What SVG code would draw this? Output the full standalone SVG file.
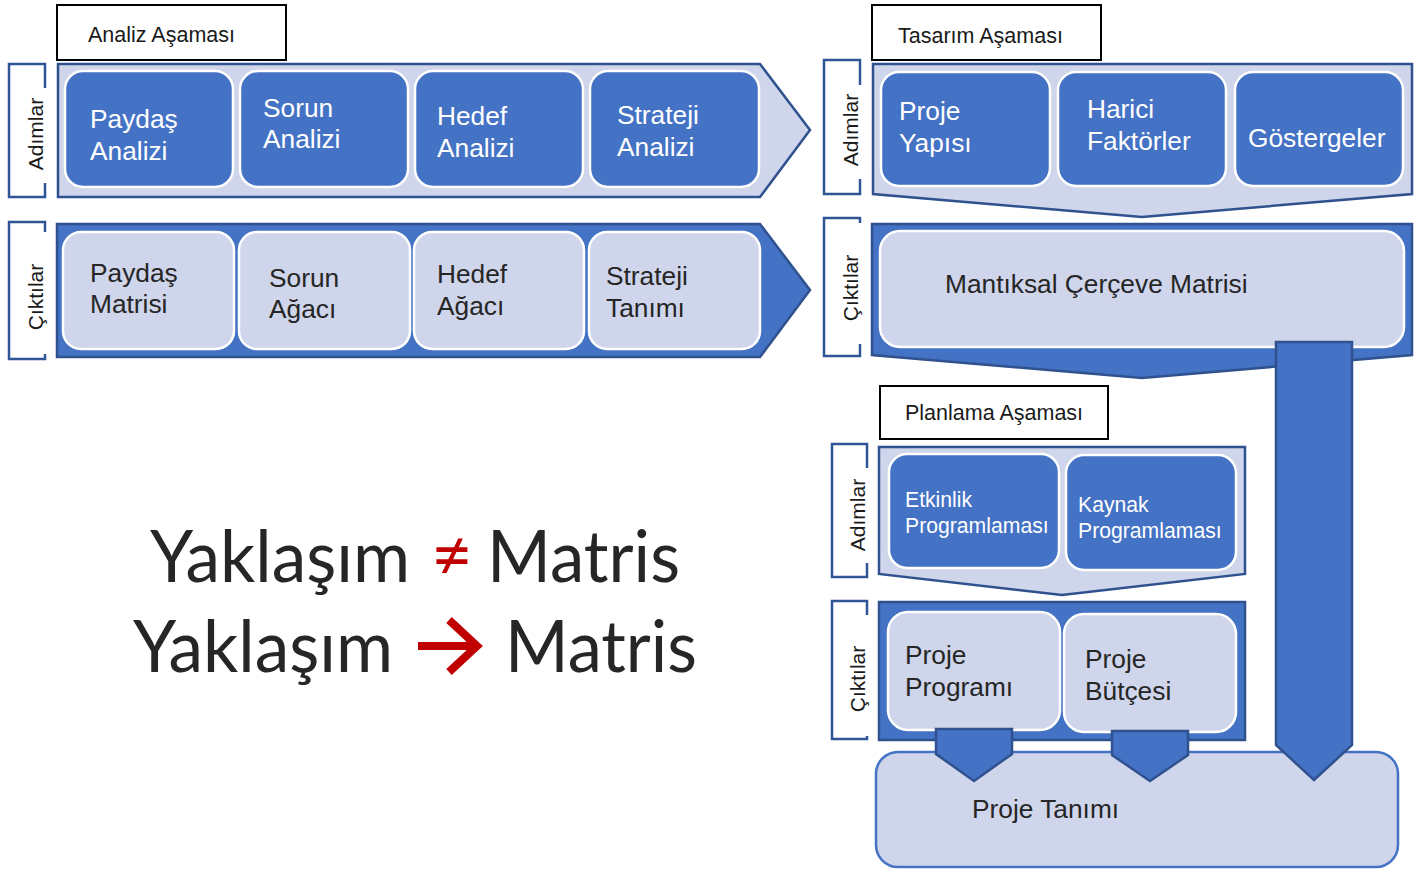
<svg xmlns="http://www.w3.org/2000/svg" width="1416" height="869" viewBox="0 0 1416 869">
<style>
.lbl{fill:#fff;stroke:#000;stroke-width:2}
.lt{font-family:"Liberation Sans",Arial,sans-serif;font-size:21.5px;fill:#1a1a1a}
.br{fill:none;stroke:#2F5597;stroke-width:2.5}
.bt{font-family:"Liberation Sans",Arial,sans-serif;font-size:21px;fill:#1a1a1a;text-anchor:middle}
.pl{fill:#CFD5EA;stroke:#2F528F;stroke-width:2.5}
.pd{fill:#4472C4;stroke:#2F528F;stroke-width:2.5}
.bd{fill:#4472C4;stroke:#fff;stroke-width:2.5}
.bl{fill:#CFD5EA;stroke:#fff;stroke-width:2.5}
.tw{font-family:"Liberation Sans",Arial,sans-serif;font-size:26.3px;fill:#fff}
.tws{font-family:"Liberation Sans",Arial,sans-serif;font-size:21.2px;fill:#fff}
.td{font-family:"Liberation Sans",Arial,sans-serif;font-size:26.3px;fill:#262626}
.big{font-family:Lato,"Open Sans",sans-serif;font-size:72px;fill:#262626}
</style>

<!-- Analysis phase -->
<g id="analiz-label"><rect class="lbl" x="57" y="5" width="229" height="55"/><text class="lt" x="88" y="42">Analiz Aşaması</text></g>
<g id="analiz-adimlar-bracket"><path class="br" d="M45,88 V64 H9 V197 H45 V183"/><text class="bt" transform="translate(43,134) rotate(-90)">Adımlar</text></g>
<g id="analiz-adimlar"><polygon class="pl" points="58,64 760,64 810,130 760,197 58,197"/></g>
<g id="paydas-analizi"><rect class="bd" x="65" y="71" width="168" height="116" rx="18"/><text class="tw" x="90" y="128">Paydaş</text><text class="tw" x="90" y="160">Analizi</text></g>
<g id="sorun-analizi"><rect class="bd" x="240" y="71" width="168" height="116" rx="18"/><text class="tw" x="263" y="117">Sorun</text><text class="tw" x="263" y="148">Analizi</text></g>
<g id="hedef-analizi"><rect class="bd" x="415" y="71" width="168" height="116" rx="18"/><text class="tw" x="437" y="125">Hedef</text><text class="tw" x="437" y="157">Analizi</text></g>
<g id="strateji-analizi"><rect class="bd" x="590" y="71" width="169" height="116" rx="18"/><text class="tw" x="617" y="124">Strateji</text><text class="tw" x="617" y="156">Analizi</text></g>

<g id="analiz-ciktilar-bracket"><path class="br" d="M45,232 V222 H9 V359 H45 V354"/><text class="bt" transform="translate(43,297) rotate(-90)">Çıktılar</text></g>
<g id="analiz-ciktilar"><polygon class="pd" points="57,224 760,224 810,290 760,357 57,357"/></g>
<g id="paydas-matrisi"><rect class="bl" x="63" y="232" width="171" height="117" rx="18"/><text class="td" x="90" y="282">Paydaş</text><text class="td" x="90" y="313">Matrisi</text></g>
<g id="sorun-agaci"><rect class="bl" x="239" y="232" width="171" height="117" rx="18"/><text class="td" x="269" y="287">Sorun</text><text class="td" x="269" y="318">Ağacı</text></g>
<g id="hedef-agaci"><rect class="bl" x="414" y="232" width="170" height="117" rx="18"/><text class="td" x="437" y="283">Hedef</text><text class="td" x="437" y="315">Ağacı</text></g>
<g id="strateji-tanimi"><rect class="bl" x="589" y="232" width="171" height="117" rx="18"/><text class="td" x="606" y="285">Strateji</text><text class="td" x="606" y="317">Tanımı</text></g>

<!-- Design phase -->
<g id="tasarim-label"><rect class="lbl" x="872" y="5" width="229" height="55"/><text class="lt" x="898" y="43">Tasarım Aşaması</text></g>
<g id="tasarim-adimlar-bracket"><path class="br" d="M860,85 V60 H824 V194 H860 V179"/><text class="bt" transform="translate(858,130) rotate(-90)">Adımlar</text></g>
<g id="tasarim-adimlar"><polygon class="pl" points="873,64 1412,64 1412,194 1142,217 873,194"/></g>
<g id="proje-yapisi"><rect class="bd" x="881" y="72" width="169" height="114" rx="18"/><text class="tw" x="899" y="120">Proje</text><text class="tw" x="899" y="152">Yapısı</text></g>
<g id="harici-faktorler"><rect class="bd" x="1058" y="72" width="168" height="114" rx="18"/><text class="tw" x="1087" y="118">Harici</text><text class="tw" x="1087" y="150">Faktörler</text></g>
<g id="gostergeler"><rect class="bd" x="1235" y="72" width="168" height="114" rx="18"/><text class="tw" x="1248" y="147">Göstergeler</text></g>

<g id="tasarim-ciktilar-bracket"><path class="br" d="M860,223 V218 H824 V356 H860 V344"/><text class="bt" transform="translate(858,288) rotate(-90)">Çıktılar</text></g>
<g id="tasarim-ciktilar"><polygon class="pd" points="872,224 1412,224 1412,355 1142,378 872,355"/></g>
<g id="mantiksal-cerceve"><rect class="bl" x="880" y="231" width="524" height="116" rx="20"/><text class="td" x="945" y="293">Mantıksal Çerçeve Matrisi</text></g>

<!-- Planning phase -->
<g id="planlama-label"><rect class="lbl" x="880" y="386" width="228" height="53"/><text class="lt" x="905" y="420">Planlama Aşaması</text></g>
<g id="planlama-adimlar-bracket"><path class="br" d="M867,468 V444 H832 V577 H867 V563"/><text class="bt" transform="translate(865,515) rotate(-90)">Adımlar</text></g>
<g id="planlama-adimlar"><polygon class="pl" points="879,447 1245,447 1245,574 1062,595 879,574"/></g>
<g id="etkinlik-programlamasi"><rect class="bd" x="889" y="454" width="170" height="114" rx="18"/><text class="tws" x="905" y="507">Etkinlik</text><text class="tws" x="905" y="533">Programlaması</text></g>
<g id="kaynak-programlamasi"><rect class="bd" x="1066" y="455" width="170" height="115" rx="18"/><text class="tws" x="1078" y="512">Kaynak</text><text class="tws" x="1078" y="538">Programlaması</text></g>

<g id="planlama-ciktilar-bracket"><path class="br" d="M867,615 V601 H832 V739 H867 V736"/><text class="bt" transform="translate(865,679) rotate(-90)">Çıktılar</text></g>
<g id="planlama-ciktilar"><rect class="pd" x="879" y="602" width="366" height="138"/></g>
<g id="proje-programi"><rect class="bl" x="888" y="612" width="172" height="118" rx="20"/><text class="td" x="905" y="664">Proje</text><text class="td" x="905" y="696">Programı</text></g>
<g id="proje-butcesi"><rect class="bl" x="1064" y="614" width="172" height="118" rx="20"/><text class="td" x="1085" y="668">Proje</text><text class="td" x="1085" y="700">Bütçesi</text></g>

<!-- Final -->
<g id="proje-tanimi"><rect x="876" y="752" width="522" height="115" rx="22" fill="#CFD5EA" stroke="#4472C4" stroke-width="2.5"/><text class="td" x="972" y="818">Proje Tanımı</text></g>

<g id="connectors">
<polygon class="pd" points="1276,342 1352,342 1352,745 1314,780 1276,745"/>
<polygon class="pd" points="936,729 1012,729 1012,754 974,781 936,754"/>
<polygon class="pd" points="1112,731 1188,731 1188,755 1150,781 1112,755"/>
</g>

<!-- Statement -->
<g id="statement">
<text class="big" x="150" y="582" textLength="260" lengthAdjust="spacingAndGlyphs">Yaklaşım</text>
<text class="big" x="431" y="580" fill="#C00000" style="fill:#C00000">≠</text>
<text class="big" x="487" y="582" textLength="193" lengthAdjust="spacingAndGlyphs">Matris</text>
<text class="big" x="133" y="672" textLength="260" lengthAdjust="spacingAndGlyphs">Yaklaşım</text>
<path d="M418,646 H474 M449,620 L477,646 L449,672" fill="none" stroke="#C00000" stroke-width="8"/>
<text class="big" x="505" y="672" textLength="192" lengthAdjust="spacingAndGlyphs">Matris</text>
</g>
</svg>
